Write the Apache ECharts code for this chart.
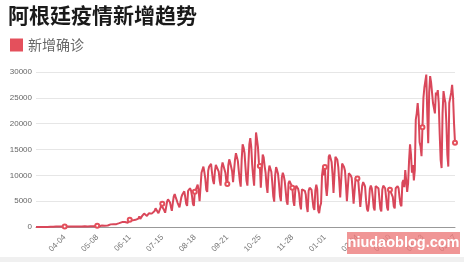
<!DOCTYPE html>
<html>
<head>
<meta charset="utf-8">
<script src="https://cdn.jsdelivr.net/npm/echarts@6/dist/echarts.min.js"></script>
<style>html,body{margin:0;padding:0;background:#fff}#c{width:464px;height:262px}</style>
</head>
<body>
<div id="c"></div>
<script>
// Daily new confirmed cases, Argentina
const startDate = '2020-03-05';
const mar2020 = [1,4,3,5,2,2,2,12,10,11,11,9,14,19,31,31,30,67,41,36,86,115,101,55,75,146,88];
const apr2020 = [99,132,113,86,104,140,82,115,98,88,154,103,79,70,111,91,151,140,96,87,104,117,106,153,165,107,67,112,148,170];
const may2020 = [143,165,105,129,135,151,170,240,165,163,135,185,302,181,182,255,213,181,289,405,457,508,720,702,535,708,624,556,674,795,742];
const jun2020 = [602,564,949,929,840,983,1035,826,816,1039,1391,1226,1386,1282,1016,1208,1393,1374,1531,1634,2060,1581,1693,2146,2285,2606,2886,2401,2146,2262];
const jul2020 = [2667,2744,2845,2590,2439,2632,3099,3604,3663,3367,2657,2973,3645,4250,4518,4250,3223,2759,3809,4890,5344,5493,4783,3937,3129,4602,5939,6377,5782,5641,4687];
const aug2020 = [4500,3800,3600,5800,6300,6400,6900,5800,4500,4100,7000,7000,7500,7100,6100,4500,4100,6800,7200,7500,8200,7000,5000,5100,10500,10700,11700,10600,9300,7200,6800];
const sep2020 = [10900,11700,12000,12200,10500,9000,8300,10700,12000,12200,12000,10700,9000,8000,11500,12500,12300,12200,10500,8800,8300,11900,13100,12500,12500,10800,8700,9000,13000,14300];
const oct2020 = [14000,12800,10800,9000,7800,13000,16000,15400,14300,11500,9000,8000,12000,16000,17200,15500,12000,9800,8000,13000,18300,17000,15500,12500,11800,7600,11000,14000,13500,11800,10500];
const nov2020 = [8000,6600,10400,11900,12000,10700,8600,6000,4900,10000,11600,11000,10300,8400,6000,5000,9600,10500,9900,8900,7000,5000,4300,8500,8900,8500,8100,7600,5000,4100];
const dec2020 = [7000,8000,7900,7400,6500,4400,3400,7300,7000,7500,7000,6300,4000,2900,7000,7600,7400,7200,5400,3800,3300,7100,8200,7300,3200,2700,4000,4600,10000,11500,10000];
const jan2021 = [11600,7700,6000,8300,13600,14000,13800,12600,10200,6600,6300,13600,13400,13000,11600,8800,5700,5900,12300,12100,11600,10900,8200,5000,5200,10400,10700,10000,9500,7200,4500];
const feb2021 = [4400,9300,9800,9400,8700,6300,3900,3800,8000,8700,8300,7800,5200,3500,3000,4500,7400,8000,7500,5900,3800,3200,7900,8200,7900,7500,5400,3500];
const mar2021 = [3000,7200,8000,7800,7500,5700,3800,3200,7700,7200,7500,7300,5800,4000,3600,7500,7800,7900,7500,5800,4400,4000,8600,9100,7700,11000,9000,6800,8500,12900,16000];
const apr2021 = [14000,10500,12000,9000,11000,20800,22000,24000,21500,16400,15600,13700,19300,25000,27000,27000,29500,22000,16200,26000,29200,28000,26000,24000,23000,22000,26000,25500,26500,24000];
const may2021 = [18000,13000,11400,22000,26300,25000,24000,20000,14000,11700,24000,25000,26000,27500,25000,20000,16300];
const yTicks = [0,5000,10000,15000,20000,25000,30000];

const values = [].concat(mar2020,apr2020,may2020,jun2020,jul2020,aug2020,sep2020,oct2020,nov2020,dec2020,jan2021,feb2021,mar2021,apr2021,may2021);
const categories = [];
const d0 = new Date(startDate + 'T00:00:00Z');
for (let i = 0; i < values.length; i++) {
  const d = new Date(d0.getTime() + i * 86400000);
  const mm = String(d.getUTCMonth() + 1).padStart(2, '0');
  const dd = String(d.getUTCDate()).padStart(2, '0');
  categories.push(mm + '-' + dd);
}

const chart = echarts.init(document.getElementById('c'), null, {renderer: 'canvas'});
chart.setOption({
  animation: false,
  backgroundColor: '#fff',
  title: {
    text: '阿根廷疫情新增趋势',
    left: 8, top: 5, padding: 0,
    textStyle: {fontFamily: 'Noto Sans CJK SC', fontWeight: 'bold', fontSize: 21, color: '#1a1a1a'}
  },
  legend: {
    data: ['新增确诊'],
    left: 10, top: 38, padding: 0,
    icon: 'rect', itemWidth: 13, itemHeight: 13,
    textStyle: {fontFamily: 'Noto Sans CJK SC', fontSize: 14, color: '#666'}
  },
  grid: {left: 36, right: 9, top: 72, bottom: 35, containLabel: false},
  xAxis: {
    type: 'category',
    data: categories,
    boundaryGap: false,
    axisLine: {lineStyle: {color: '#999'}},
    axisTick: {show: false},
    axisLabel: {
      rotate: 45, fontSize: 8, color: '#777', margin: 9,
      interval: function (i) { return (i + 4) % 34 === 0; }
    }
  },
  yAxis: {
    type: 'value',
    min: yTicks[0], max: yTicks[yTicks.length - 1], interval: yTicks[1] - yTicks[0],
    axisLine: {show: false},
    axisTick: {show: false},
    axisLabel: {fontSize: 8, color: '#666', margin: 4, formatter: function (v) { return String(v); }},
    splitLine: {lineStyle: {color: '#e6e6e6'}}
  },
  series: [{
    name: '新增确诊',
    type: 'line',
    data: values,
    symbol: 'emptyCircle',
    symbolSize: 4,
    itemStyle: {color: '#e4505c', borderWidth: 1},
    lineStyle: {color: '#d9475a', width: 2}
  }],
  graphic: [
    {type: 'rect', x: 0, y: 257, shape: {x: 0, y: 0, width: 464, height: 5}, style: {fill: '#f0f0f0'}, silent: true, z: 100},
    {type: 'rect', x: 347, y: 232, shape: {x: 0, y: 0, width: 113, height: 22}, style: {fill: 'rgba(236,124,124,0.8)'}, silent: true, z: 100},
    {type: 'text', x: 403.5, y: 243, z: 101, silent: true,
     style: {text: 'niudaoblog.com', fill: '#ffffff', font: 'bold 14.5px "Liberation Sans", Arial, sans-serif', align: 'center', verticalAlign: 'middle'}}
  ]
});
</script>
</body>
</html>
